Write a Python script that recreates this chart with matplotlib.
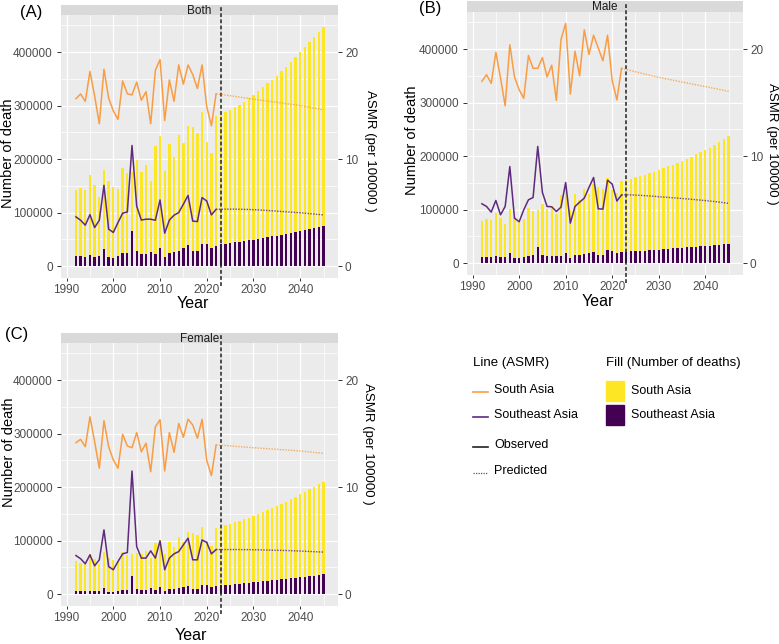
import matplotlib
matplotlib.use("Agg")
import matplotlib.pyplot as plt
from matplotlib.lines import Line2D
from matplotlib.patches import Rectangle

plt.rcParams["font.family"] = ["Liberation Sans Narrow", "Liberation Sans", "DejaVu Sans"]

# ---- data -------------------------------------------------------------
YEARS_OBS = list(range(1992, 2023))       # observed period
YEARS_FC = list(range(2023, 2046))        # forecast bars
YEARS_FC_LINE = list(range(2022, 2046))   # predicted lines start at last observed year

# Both sexes: number of deaths
both_sa_obs = [141600, 145300, 142200, 170100, 152200, 129100, 178800, 158400, 148500, 143500,
               182600, 173300, 175000, 198800, 176400, 189400, 159600, 223600, 242200, 177000,
               229100, 203100, 245900, 230400, 262100, 259600, 248400, 287500, 231000, 211100, 280700]
both_sa_fc = [283200, 287500, 292500, 297500, 301800, 307400, 313600, 319800, 326600, 334100,
              341500, 348400, 355800, 363900, 372000, 381300, 390000, 399300, 409300, 418600,
              427900, 438400, 447700]
both_sea_obs = [18600, 18000, 17000, 21100, 16500, 19300, 32300, 16500, 15900, 19300,
                23600, 24200, 65800, 27300, 22300, 22300, 26700, 23000, 32900, 17600,
                24200, 26700, 28600, 34100, 39700, 27300, 27300, 41600, 41000, 32900, 37200]
both_sea_fc = [40400, 41600, 42800, 44100, 45400, 46700, 48100, 49500, 51000, 52500,
               54000, 55500, 57000, 58600, 60200, 61800, 63500, 65200, 67000, 68800,
               70700, 72600, 74500]
# Both sexes: ASMR
both_sa_asmr = [15.65, 16.08, 15.4, 18.2, 15.9, 13.3, 18.4, 15.7, 14.5, 13.7,
                17.3, 16.1, 16.0, 17.2, 15.5, 16.3, 13.3, 18.3, 19.3, 13.6,
                17.4, 15.4, 18.8, 17.0, 18.8, 17.9, 16.6, 18.8, 14.9, 13.1, 16.1]
both_sa_asmr_fc = [16.1, 16.05, 15.98, 15.92, 15.86, 15.8, 15.73, 15.67, 15.6, 15.54, 15.48, 15.42,
                   15.36, 15.3, 15.24, 15.18, 15.12, 15.06, 15.0, 14.92, 14.84, 14.76, 14.68, 14.6]
both_sea_asmr = [4.6, 4.28, 3.82, 4.8, 3.6, 4.28, 7.55, 3.45, 3.14, 4.07,
                 4.94, 5.06, 11.27, 5.6, 4.3, 4.38, 4.38, 4.28, 6.18, 3.07,
                 4.3, 4.75, 5.0, 5.78, 6.6, 4.2, 4.16, 6.4, 6.08, 4.78, 5.3]
both_sea_asmr_fc = [5.30, 5.31, 5.32, 5.32, 5.32, 5.31, 5.30, 5.29, 5.27, 5.25, 5.22, 5.19,
                    5.16, 5.13, 5.10, 5.07, 5.04, 5.01, 4.98, 4.94, 4.90, 4.86, 4.82, 4.78]

# Male
male_sa_obs = [79000, 82100, 79600, 93300, 84600, 72800, 100800, 85800, 76500, 82100,
               103300, 97700, 99500, 110700, 100800, 105800, 90800, 126900, 140000, 99500,
               129400, 117000, 138700, 129400, 148100, 143100, 138700, 159900, 136400, 131500, 153800]
male_sa_fc = [156000, 158000, 160500, 163000, 165500, 168000, 171000, 174000, 177000, 180500,
              184000, 187500, 191000, 195000, 199000, 203000, 207000, 211500, 216000, 221000,
              226000, 231000, 237000]
male_sea_obs = [11800, 11200, 10600, 13100, 10600, 11800, 19300, 10000, 10000, 11800,
                13700, 14300, 30500, 15600, 12400, 12400, 12400, 12400, 18700, 10000,
                14300, 14900, 16200, 18000, 21200, 14300, 14300, 23600, 23000, 18700, 20000]
male_sea_fc = [21000, 21600, 22200, 22800, 23400, 24000, 24600, 25200, 25900, 26500,
               27200, 27900, 28500, 29200, 29900, 30600, 31400, 32100, 32800, 33600,
               34400, 35200, 36000]
male_sa_asmr = [17.0, 17.6, 16.8, 19.7, 17.3, 14.7, 20.4, 17.4, 16.2, 15.4,
                19.4, 18.2, 18.2, 19.2, 17.4, 18.5, 15.2, 20.9, 22.4, 15.8,
                19.8, 17.5, 21.8, 19.5, 21.3, 20.1, 18.9, 21.3, 17.05, 15.25, 18.2]
male_sa_asmr_fc = [18.2, 18.1, 17.99, 17.88, 17.78, 17.67, 17.57, 17.46, 17.36, 17.27, 17.18, 17.1,
                   17.01, 16.92, 16.84, 16.75, 16.67, 16.58, 16.5, 16.41, 16.32, 16.23, 16.14, 16.05]
male_sea_asmr = [5.54, 5.29, 4.76, 5.85, 4.51, 5.29, 9.02, 4.2, 3.86, 4.98,
                 5.91, 6.13, 10.9, 6.6, 5.29, 5.26, 4.82, 5.23, 7.53, 3.73,
                 5.29, 5.69, 6.07, 7.06, 8.0, 5.07, 5.04, 7.75, 7.38, 5.8, 6.36]
male_sea_asmr_fc = [6.36, 6.38, 6.37, 6.35, 6.33, 6.3, 6.27, 6.24, 6.2, 6.17, 6.14, 6.1,
                    6.07, 6.03, 6.0, 5.96, 5.92, 5.88, 5.84, 5.79, 5.75, 5.7, 5.64, 5.58]

# Female
female_sa_obs = [62100, 57800, 56600, 74600, 65900, 56000, 77700, 68300, 63400, 60900,
                 77700, 73400, 74600, 76500, 74600, 80200, 67200, 95200, 101400, 75200,
                 97600, 87700, 106400, 98200, 115700, 114400, 110100, 126200, 99000, 90000, 124000]
female_sa_fc = [126000, 128500, 131000, 134000, 137000, 140000, 143000, 146500, 150000, 153500,
                157000, 161000, 165000, 169000, 173000, 177500, 182000, 186500, 191000, 195500,
                200000, 205000, 210000]
female_sea_obs = [6200, 5000, 5000, 6200, 5000, 6200, 11800, 4400, 4400, 5600,
                  8100, 8100, 34200, 9300, 7500, 7500, 11200, 7500, 12400, 5600,
                  8700, 9900, 10600, 13100, 14900, 9900, 9900, 16800, 16200, 13100, 14900]
female_sea_fc = [16000, 16800, 17600, 18400, 19300, 20200, 21100, 22000, 22900, 23800,
                 24700, 25600, 26500, 27400, 28300, 29200, 30200, 31200, 32200, 33300,
                 34300, 35300, 37300]
female_sa_asmr = [14.15, 14.46, 13.77, 16.57, 14.24, 11.76, 16.2, 13.77, 12.53, 11.76,
                  14.93, 13.84, 13.68, 15.1, 13.3, 14.1, 11.44, 15.64, 16.3, 11.5,
                  15.1, 13.25, 15.95, 14.65, 16.35, 15.8, 14.56, 16.33, 12.5, 11.07, 13.93]
female_sa_asmr_fc = [13.93, 13.92, 13.88, 13.85, 13.81, 13.78, 13.75, 13.71, 13.68, 13.65, 13.62, 13.59,
                     13.56, 13.53, 13.5, 13.47, 13.44, 13.41, 13.37, 13.33, 13.29, 13.24, 13.2, 13.15]
female_sea_asmr = [3.6, 3.3, 2.83, 3.67, 2.64, 3.2, 6.0, 2.57, 2.27, 3.04,
                   3.76, 3.88, 11.5, 4.44, 3.36, 3.36, 4.04, 3.36, 4.97, 2.27,
                   3.36, 3.76, 3.97, 4.6, 5.22, 3.2, 3.2, 5.06, 4.82, 3.76, 4.16]
female_sea_asmr_fc = [4.16, 4.16, 4.16, 4.16, 4.16, 4.16, 4.15, 4.15, 4.14, 4.13, 4.12, 4.11,
                      4.1, 4.09, 4.08, 4.07, 4.05, 4.04, 4.02, 4.0, 3.98, 3.96, 3.94, 3.92]

X_TICKS = [1990, 2000, 2010, 2020, 2030, 2040]
Y_TICKS = [0, 100000, 200000, 300000, 400000]
ASMR_TICKS = [0, 10, 20]
SCALE = 20000          # deaths per ASMR unit on the secondary axis
CUTOFF_YEAR = 2023

# ---- style ------------------------------------------------------------
YELLOW = "#FDE725"
DARK = "#440154"
ORANGE = "#F99D45"
PURPLE = "#5E2A7E"
PANEL_BG = "#EBEBEB"
STRIP_BG = "#D9D9D9"
TICK_C = "#4D4D4D"

W, H = 779, 644
fig = plt.figure(figsize=(W / 100, H / 100), dpi=100)
fig.patch.set_facecolor("white")


def box(x0, y0, x1, y1):
    return [x0 / W, 1 - y1 / H, (x1 - x0) / W, (y1 - y0) / H]


def fx(x):
    return x / W


def fy(y):
    return 1 - y / H


def draw_panel(pbox, sbox, title, sa_obs, sa_fc, sea_obs, sea_fc,
               sa_asmr, sa_asmr_fc, sea_asmr, sea_asmr_fc):
    sax = fig.add_axes(box(*sbox))
    sax.set_facecolor(STRIP_BG)
    sax.set_xticks([]); sax.set_yticks([])
    for s in sax.spines.values():
        s.set_visible(False)
    sax.text(0.5, 0.45, title, ha="center", va="center", fontsize=8.5,
             color="#1A1A1A", transform=sax.transAxes)

    ax = fig.add_axes(box(*pbox))
    ax.set_facecolor(PANEL_BG)
    years = YEARS_OBS + YEARS_FC
    ax.bar(years, sa_obs + sa_fc, width=0.5, color=YELLOW, zorder=2)
    ax.bar(years, sea_obs + sea_fc, width=0.5, color=DARK, zorder=3)
    ax.set_xlim(1988.8, 2048.1)
    ax.set_ylim(-22350, 469350)
    ax.set_xticks(X_TICKS)
    ax.set_xticks([1995, 2005, 2015, 2025, 2035, 2045], minor=True)
    ax.set_yticks(Y_TICKS)
    ax.set_yticklabels([str(v) for v in Y_TICKS])
    ax.set_yticks([50000, 150000, 250000, 350000, 450000], minor=True)
    ax.grid(which="major", color="white", lw=0.9, zorder=0)
    ax.grid(which="minor", color="white", lw=0.5, zorder=0)
    ax.set_axisbelow(True)
    for s in ax.spines.values():
        s.set_visible(False)
    ax.tick_params(axis="x", which="major", length=2.5, width=0.7, color="#333333",
                   labelsize=8.5, labelcolor=TICK_C, pad=1.5)
    ax.tick_params(axis="y", which="major", length=3, width=0.7, color="#333333",
                   labelsize=8.5, labelcolor=TICK_C, pad=3)
    ax.tick_params(which="minor", length=0)
    ax.axvline(CUTOFF_YEAR, ymin=-0.03, ymax=1.038, color="#222222", lw=1.1,
               ls=(0, (2.5, 1.5)), zorder=6, clip_on=False)

    ax2 = ax.twinx()
    lo, hi = ax.get_ylim()
    ax2.set_ylim(lo / SCALE, hi / SCALE)
    ax2.set_yticks(ASMR_TICKS)
    for s in ax2.spines.values():
        s.set_visible(False)
    ax2.tick_params(axis="y", length=3, width=0.7, color="#333333",
                    labelsize=8.5, labelcolor=TICK_C, pad=2)
    ax2.plot(YEARS_OBS, sa_asmr, color=ORANGE, lw=1.1, zorder=4)
    ax2.plot(YEARS_OBS, sea_asmr, color=PURPLE, lw=1.1, zorder=4)
    ax2.plot(YEARS_FC_LINE, sa_asmr_fc, color=ORANGE, lw=1.0, ls=(0, (1, 1)), alpha=0.85)
    ax2.plot(YEARS_FC_LINE, sea_asmr_fc, color=PURPLE, lw=1.0, ls=(0, (1, 1)), alpha=0.85)
    return ax


draw_panel((61, 15, 338, 278), (61, 5, 338, 15), "Both",
           both_sa_obs, both_sa_fc, both_sea_obs, both_sea_fc,
           both_sa_asmr, both_sa_asmr_fc, both_sea_asmr, both_sea_asmr_fc)
draw_panel((467, 12, 743, 275), (467, 1, 743, 12), "Male",
           male_sa_obs, male_sa_fc, male_sea_obs, male_sea_fc,
           male_sa_asmr, male_sa_asmr_fc, male_sea_asmr, male_sea_asmr_fc)
draw_panel((61, 343, 338, 606), (61, 333, 338, 343), "Female",
           female_sa_obs, female_sa_fc, female_sea_obs, female_sea_fc,
           female_sa_asmr, female_sa_asmr_fc, female_sea_asmr, female_sea_asmr_fc)

# panel tags and axis titles
for tag, x, y in [("(A)", 31, 12), ("(B)", 430, 8), ("(C)", 17, 335)]:
    fig.text(fx(x), fy(y), tag, fontsize=12, ha="center", va="center")
for x, y in [(8, 153), (412, 140), (9, 452)]:
    fig.text(fx(x), fy(y), "Number of death", fontsize=10.5, rotation=90,
             ha="center", va="center")
for x, y in [(370, 151), (772, 144), (368, 444)]:
    fig.text(fx(x), fy(y), "ASMR (per 100000 )", fontsize=9.5, rotation=270,
             ha="center", va="center")
for x, y in [(193, 304), (598, 301), (191, 636)]:
    fig.text(fx(x), fy(y), "Year", fontsize=11.5, ha="center", va="center")

# legends (drawn by hand to follow the ggplot layout)
fig.text(fx(473), fy(363), "Line (ASMR)", fontsize=9.5, ha="left", va="center")
fig.text(fx(606), fy(363), "Fill (Number of deaths)", fontsize=9.5, ha="left", va="center")
line_items = [("South Asia", ORANGE, "-", 390), ("Southeast Asia", PURPLE, "-", 415),
              ("Observed", "#222222", "-", 445), ("Predicted", "#555555", (0, (1, 1)), 471)]
for label, col, ls, y in line_items:
    fig.add_artist(Line2D([fx(473), fx(488)], [fy(y + 2), fy(y + 2)], color=col,
                          lw=1.2 if ls == "-" else 0.9, ls=ls))
    fig.text(fx(494), fy(y), label, fontsize=9, ha="left", va="center")
fill_items = [("South Asia", YELLOW, 391), ("Southeast Asia", DARK, 415)]
for label, col, y in fill_items:
    fig.add_artist(Rectangle((fx(606), fy(y + 10)), 18 / W, 20 / H, color=col,
                             transform=fig.transFigure))
    fig.text(fx(631), fy(y), label, fontsize=9, ha="left", va="center")

fig.savefig("out.png", dpi=100, facecolor="white")
